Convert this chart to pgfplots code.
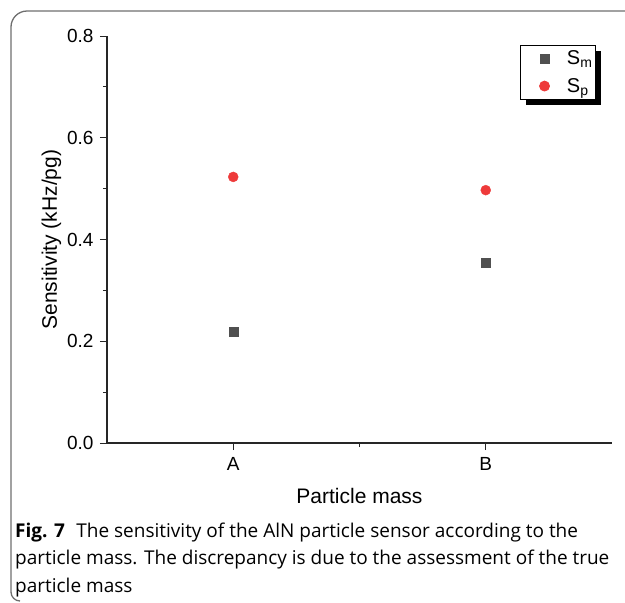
\documentclass[border=0pt]{standalone}
\usepackage{fontspec}
\setmainfont{Liberation Sans}
\newfontfamily\capfont{Open Sans}
\usepackage{pgfplots}
\pgfplotsset{compat=1.18}
\usetikzlibrary{shadows}

\definecolor{smgray}{RGB}{80,80,80}
\definecolor{spred}{RGB}{238,58,58}
\definecolor{framegray}{RGB}{110,110,110}

\begin{document}
\begin{tikzpicture}[x=1pt,y=1pt]
\useasboundingbox (0,0) rectangle (625,-603);
% frame round figure and caption
\draw[framegray, line width=1.3pt] (11,-592) -- (11,-27) arc[start angle=180, end angle=90, radius=16] -- (625,-11);
\draw[framegray, line width=1.3pt] (11,-592) arc[start angle=180, end angle=270, radius=9];

\begin{axis}[
  at={(107pt,-443pt)}, anchor=south west,
  scale only axis, width=505pt, height=407pt,
  xmin=0.5, xmax=2.5, ymin=0, ymax=0.8,
  axis x line*=bottom, axis y line*=left,
  axis line style={line width=1.2pt, black!85},
  xtick={1,2}, xticklabels={A,B}, minor xtick={1.5},
  ytick={0,0.2,0.4,0.6,0.8}, minor ytick={0.1,0.3,0.5,0.7},
  tick align=outside, major tick length=7pt, minor tick length=4pt,
  every tick/.style={black!85, line width=1pt},
  /pgf/number format/assume math mode=true,
  yticklabel style={/pgf/number format/fixed, /pgf/number format/fixed zerofill,
    /pgf/number format/precision=1, xshift=-3pt},
  tick label style={font=\fontsize{19}{20}\selectfont},
  xticklabel style={yshift=-4pt},
  label style={font=\fontsize{21}{23}\selectfont},
  xlabel={Particle mass},
  xlabel style={yshift=-11pt},
  ylabel={Sensitivity (kHz/pg)},
  ylabel style={yshift=-1pt},
  legend style={at={(0.968,0.978)}, anchor=north east, draw=black, line width=0.8pt,
    fill=white, font=\fontsize{20}{22}\selectfont,
    drop shadow={shadow xshift=6pt, shadow yshift=-6pt, fill=black, opacity=1},
    inner xsep=1pt, inner ysep=3.5pt, row sep=8pt, column sep=5pt},
  legend image code/.code={%
    \path (-23pt,0pt) (15pt,0pt);
    \draw[#1] plot coordinates {(0pt,0pt)};},
  legend cell align=left,
]
\addplot[only marks, mark=square*, mark size=4.5pt, smgray, mark options={draw=smgray, fill=smgray}]
  coordinates {(1,0.218) (2,0.354)};
\addlegendentry{S\textsubscript{m}}
\addplot[only marks, mark=*, mark size=5pt, spred, mark options={draw=spred, fill=spred}]
  coordinates {(1,0.523) (2,0.497)};
\addlegendentry{S\textsubscript{p}}
\end{axis}

\begin{scope}[font=\capfont\fontsize{19}{22}\selectfont]
\node[anchor=base west, inner sep=0pt] at (15,-537) {\textbf{Fig. 7}\hspace{0.6em}The sensitivity of the AlN particle sensor according to the};
\node[anchor=base west, inner sep=0pt] at (15,-564) {particle mass. The discrepancy is due to the assessment of the true};
\node[anchor=base west, inner sep=0pt] at (15,-592) {particle mass};
\end{scope}
\end{tikzpicture}
\end{document}
